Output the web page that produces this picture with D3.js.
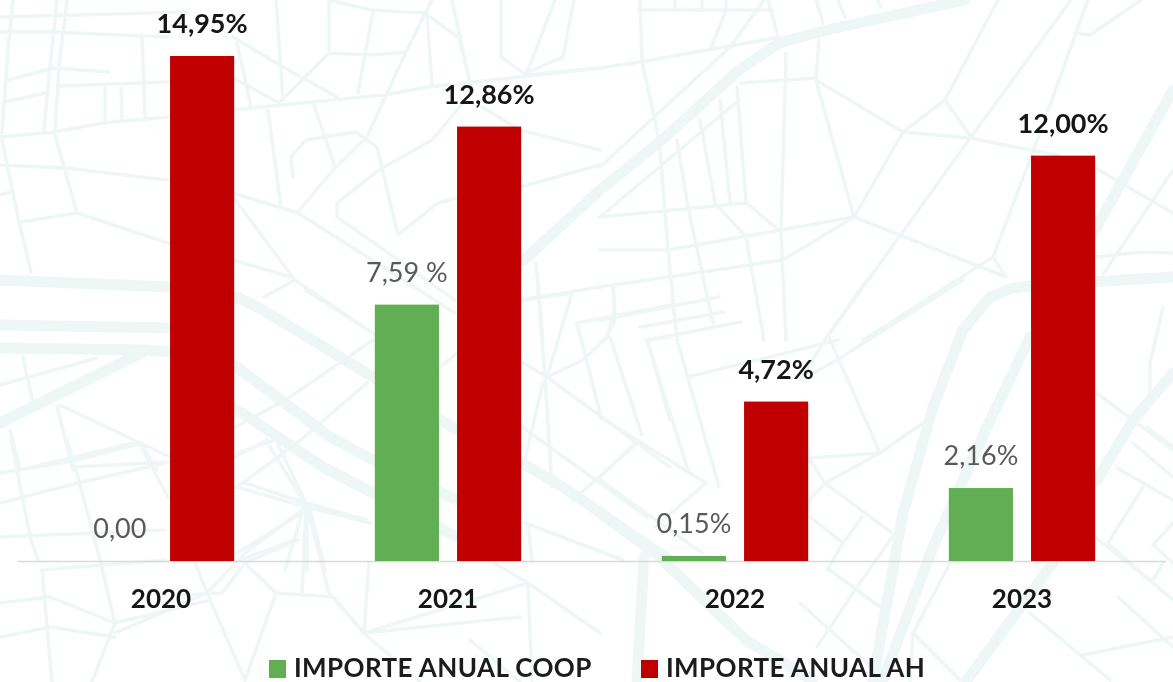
<!DOCTYPE html>
<html>
<head>
<meta charset="utf-8">
<script src="https://cdn.jsdelivr.net/npm/d3@7"></script>
<style>
    html, body { margin: 0; background: #fff; }
    svg { display: block; filter: blur(0.5px); }
    text { font-family: Lato, sans-serif; }
    .street { fill: none; stroke: #eff6f6; stroke-linejoin: round; stroke-linecap: round; }
    .axis-label { font-size: 26px; font-weight: 700; fill: #161616; }
    .label-coop { font-size: 27px; fill: #595959; text-anchor: middle; }
    .label-ah { font-size: 27px; font-weight: 700; fill: #161616; text-anchor: middle; }
    .legend-text { font-size: 26px; font-weight: 700; fill: #1c1c1c; letter-spacing: 0.4px; }
</style>
</head>
<body>
<svg width="1173" height="682"></svg>
<script>
const years = ['2020', '2021', '2022', '2023'];
const coopValues = [0, 7.59, 0.15, 2.16];
const ahValues = [14.95, 12.86, 4.72, 12.00];
const coopLabels = ['0,00', '7,59 %', '0,15%', '2,16%'];
const ahLabels = ['14,95%', '12,86%', '4,72%', '12,00%'];
const seriesNames = ['IMPORTE ANUAL COOP', 'IMPORTE ANUAL AH'];

// street map behind the chart, just decoration
const thinStreets = [
    [[0,17],[187,12]], [[0,32],[50,32],[168,37]], [[13,0],[8,50],[2,133]], [[57,0],[50,67],[44,130]],
    [[67,0],[59,67],[55,130]], [[8,80],[54,68],[109,72]], [[4,102],[46,93]], [[59,86],[168,82]],
    [[0,137],[54,132],[103,123],[168,117]], [[105,88],[105,123]], [[121,88],[122,120]], [[142,38],[145,118]],
    [[0,165],[65,168],[168,180]], [[54,132],[77,213],[168,243]], [[77,213],[21,222]], [[2,140],[19,222],[31,272]],
    [[0,195],[10,192]], [[233,110],[383,95],[429,87],[600,68]], [[233,37],[283,67],[337,97]], [[276,0],[283,100]],
    [[233,78],[279,103],[329,53],[371,55],[406,52]], [[329,0],[329,52]], [[373,10],[358,93]], [[329,0],[371,10],[425,13]],
    [[425,13],[459,38],[471,88]], [[427,13],[432,85]], [[432,0],[406,52],[367,137],[333,170],[297,213]],
    [[237,43],[251,107]], [[314,105],[335,167]], [[268,110],[281,207]],
    [[293,177],[291,157],[306,140],[356,132],[377,147],[398,235],[438,203],[460,197]],
    [[463,103],[432,140],[379,170],[337,203],[337,217],[455,300]], [[233,193],[298,213],[383,267],[455,313]],
    [[233,197],[295,280],[383,340]], [[233,260],[291,277]], [[264,297],[295,280]], [[482,107],[520,130],[600,150]],
    [[520,187],[600,165]], [[520,300],[600,287]], [[452,0],[471,88]], [[501,0],[501,57],[526,75]], [[555,0],[526,75]],
    [[574,0],[563,57],[526,73]], [[526,75],[600,68]], [[536,263],[543,340]],
    [[600,68],[640,62],[775,38]], [[640,0],[642,62],[655,120],[660,150],[668,250],[677,340]], [[638,10],[772,10]],
    [[675,0],[675,8]], [[702,0],[702,10]], [[726,0],[726,10],[711,48]], [[764,0],[730,47],[600,167]], [[768,0],[779,40]],
    [[816,0],[823,23]], [[838,0],[845,17]], [[878,0],[881,7]], [[819,40],[816,78],[741,83]], [[786,53],[781,233],[786,340]],
    [[816,80],[903,132],[969,138],[1057,155]], [[816,80],[854,217],[903,132],[945,100],[998,0]],
    [[945,100],[971,137],[1071,0]], [[971,137],[830,333]], [[1088,0],[1031,157],[993,257],[1006,277]],
    [[993,257],[863,340]], [[854,217],[1006,277]], [[854,217],[783,260],[600,287]], [[854,217],[668,250],[600,250]],
    [[600,217],[746,203],[779,230]], [[739,100],[600,217]], [[737,87],[746,203]], [[720,100],[730,202]],
    [[700,120],[715,203],[746,237],[764,340]], [[677,140],[688,207],[713,323]], [[719,297],[600,320]], [[724,312],[640,327]],
    [[741,322],[648,340]], [[613,287],[615,320],[605,340]], [[1097,257],[1141,252],[1173,253]], [[1095,168],[1173,213]],
    [[1173,170],[1104,273]], [[1075,33],[1090,35],[1141,0]], [[1163,307],[1150,363],[1150,393]],
    [[867,280],[828,335],[800,380]], [[963,280],[837,360],[810,375]], [[828,335],[880,453],[810,458]],
    [[923,423],[880,453],[827,482]], [[810,460],[825,483],[892,533]], [[825,483],[803,507]], [[862,517],[843,543],[827,570]],
    [[810,517],[843,543]], [[830,570],[880,607]], [[892,537],[853,593],[817,647]], [[800,603],[833,633],[883,677]],
    [[913,633],[960,680]], [[950,563],[913,633],[910,680]], [[1095,392],[1133,420],[1173,450]], [[1147,427],[1173,447]],
    [[1133,443],[1173,477]], [[1117,468],[1173,500]], [[1143,487],[1108,543],[1153,583],[1173,600]], [[1095,537],[1153,583]],
    [[1173,523],[1153,545],[1173,563]], [[1163,563],[1153,580]], [[1118,597],[1173,647]], [[1083,655],[1173,637]], [[1030,613],[1110,680]],
    [[600,417],[706,483]], [[648,343],[688,470]], [[677,340],[719,487]], [[600,480],[702,553]], [[706,483],[655,527]],
    [[688,377],[838,340]], [[635,443],[600,477]], [[305,290],[373,333]], [[373,340],[290,397],[230,430]],
    [[367,383],[297,443],[237,487]], [[270,447],[307,507],[370,523]], [[237,487],[257,493],[307,507]], [[307,510],[237,553]],
    [[307,507],[307,570]], [[310,510],[325,570]], [[295,540],[240,560]], [[303,510],[285,570]], [[230,460],[267,440]],
    [[523,300],[573,293]], [[538,290],[545,377],[552,487]], [[572,293],[547,377]],
    [[547,377],[583,360],[607,337],[615,307],[613,290]], [[577,323],[670,305]], [[577,323],[600,413]], [[610,337],[642,435]],
    [[640,327],[670,322]], [[647,340],[670,337]], [[647,340],[670,420]], [[523,363],[547,377],[670,467]], [[543,383],[523,467]],
    [[522,427],[647,517]], [[635,445],[573,500]], [[525,523],[623,560]], [[528,527],[532,560]], [[440,367],[457,353]],
    [[0,385],[97,358]], [[23,357],[33,403]], [[10,430],[20,470]], [[57,407],[73,470]], [[60,405],[170,457]], [[20,470],[133,443]],
    [[143,447],[157,470]], [[73,467],[170,462]],
    [[11,440],[31,540],[38,560]], [[67,440],[78,477],[100,560],[115,623],[92,682]], [[0,473],[78,460],[142,443]], [[0,503],[78,483],[165,463]],
    [[0,537],[165,530]], [[140,445],[168,497]], [[42,570],[165,560]], [[42,570],[52,682]], [[0,603],[50,597],[115,623],[210,600]],
    [[0,637],[50,627],[115,637]], [[245,483],[306,503],[367,520]], [[306,507],[245,553],[207,593],[115,633]],
    [[298,540],[245,563],[276,593],[333,597]], [[306,503],[329,593],[364,633]], [[306,507],[302,593]], [[195,563],[210,600],[245,680]],
    [[245,563],[222,593],[180,595]], [[276,593],[245,680]], [[528,583],[364,633]], [[369,563],[364,633]], [[364,633],[520,617]],
    [[528,583],[532,680]], [[528,583],[600,633]], [[494,563],[528,583]], [[364,633],[420,682]], [[333,597],[364,633]], [[470,640],[520,682]],
    [[276,440],[306,503]], [[237,453],[276,440]]
];
const wideStreets = [
    [[0,280],[170,287]], [[0,325],[170,328],[237,297]], [[0,348],[147,350],[170,352]], [[0,423],[147,350]],
    [[237,297],[263,310],[373,377],[457,430]], [[230,362],[330,437],[373,460],[457,500]], [[230,405],[323,467],[373,493],[457,537]],
    [[522,463],[563,487],[650,547],[670,560]], [[524,260],[600,190],[662,140],[739,70],[779,43],[827,30],[965,0]],
    [[1173,277],[1040,285],[1013,288],[990,297],[963,330],[933,407],[903,513],[873,680]], [[1030,337],[987,427],[933,547],[883,680]],
    [[1053,563],[967,680]], [[1173,90],[1123,180],[1093,233]], [[1173,373],[1133,420],[1097,480]],
    [[600,513],[655,553],[746,640],[812,680]], [[644,557],[637,680]]
];

const svg = d3.select('svg');
const width = +svg.attr('width');
const height = +svg.attr('height');

const margin = {left: 17.5, right: 7.5, baseline: 561};
const pxPerUnit = 33.78;
const colors = ['#62ae53', '#c00000'];

const xScale = d3.scaleBand()
    .domain(years)
    .range([margin.left, width - margin.right])
    .paddingInner(0.49)
    .paddingOuter(0.245);

const xSeries = d3.scaleBand()
    .domain([0, 1])
    .range([0, xScale.bandwidth()])
    .paddingInner(0.22);

const yScale = d3.scaleLinear()
    .domain([0, 16])
    .range([margin.baseline, margin.baseline - 16 * pxPerUnit]);

const line = d3.line();

const background = svg.append('g');
background.selectAll('.thin')
    .data(thinStreets)
    .enter().append('path')
    .attr('class', 'street thin')
    .attr('stroke-width', 3.5)
    .attr('d', line);
background.selectAll('.wide')
    .data(wideStreets)
    .enter().append('path')
    .attr('class', 'street wide')
    .attr('stroke-width', 11)
    .attr('d', line);

const xAxis = d3.axisBottom(xScale)
    .tickSize(0)
    .tickPadding(29);

const xAxisG = svg.append('g')
    .attr('transform', `translate(0,${margin.baseline})`)
    .call(xAxis);
xAxisG.select('.domain').attr('stroke', '#d9d9d9').attr('stroke-width', 1.5);
xAxisG.selectAll('text').attr('class', 'axis-label');

const groups = svg.selectAll('.year')
    .data(years)
    .enter().append('g')
    .attr('class', 'year')
    .attr('transform', d => `translate(${xScale(d)},0)`);

[coopValues, ahValues].forEach((values, s) => {
    const labels = s === 0 ? coopLabels : ahLabels;
    groups.append('rect')
        .attr('x', xSeries(s))
        .attr('width', xSeries.bandwidth())
        .attr('y', (d, i) => yScale(values[i]))
        .attr('height', (d, i) => yScale(0) - yScale(values[i]))
        .attr('fill', colors[s]);
    groups.append('text')
        .attr('class', s === 0 ? 'label-coop' : 'label-ah')
        .attr('x', xSeries(s) + xSeries.bandwidth() / 2)
        .attr('y', (d, i) => yScale(values[i]) - 23)
        .text((d, i) => labels[i]);
});

const legendX = [269, 641];
const legend = svg.selectAll('.legend')
    .data(seriesNames)
    .enter().append('g')
    .attr('class', 'legend')
    .attr('transform', (d, i) => `translate(${legendX[i]},660)`);
legend.append('rect')
    .attr('width', 17)
    .attr('height', 18)
    .attr('fill', (d, i) => colors[i]);
legend.append('text')
    .attr('class', 'legend-text')
    .attr('x', 25)
    .attr('y', 17)
    .text(d => d);
</script>
</body>
</html>
